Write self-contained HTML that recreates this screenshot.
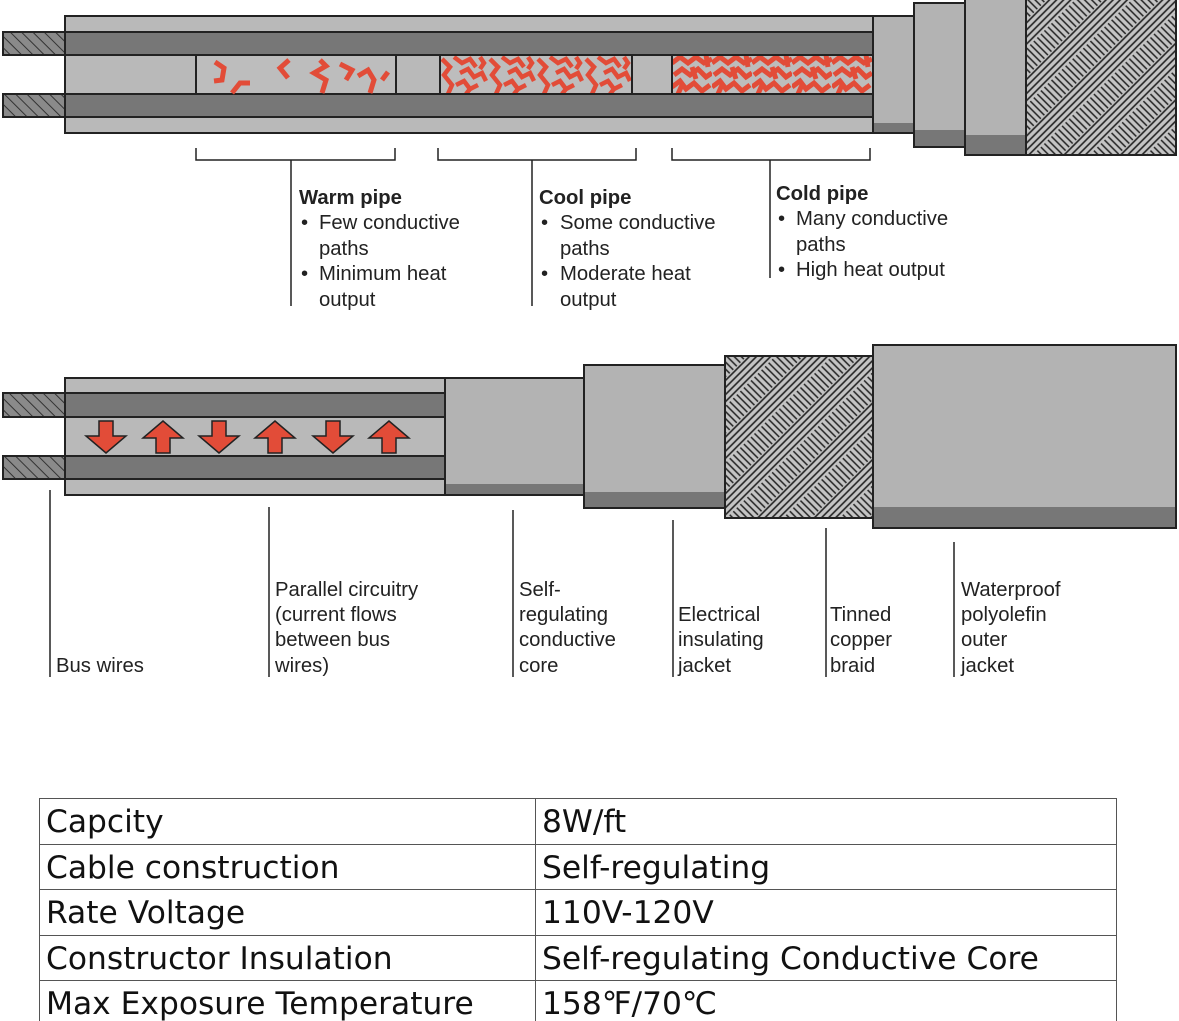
<!DOCTYPE html>
<html><head><meta charset="utf-8"><style>
html,body{margin:0;padding:0;background:#fff;width:1179px;height:1021px;overflow:hidden;position:relative}
svg{position:absolute;left:0;top:0}
.t{font-family:"Liberation Sans",Arial,sans-serif;font-size:20.3px;fill:#222}
.tb{font-weight:bold}
.tbl{position:absolute;left:39px;top:798px;width:1078px;border-top:1px solid #555;font-family:"DejaVu Sans","Liberation Sans",sans-serif;font-size:31.3px;color:#111}
.r{height:44.5px;border-bottom:1px solid #555;border-left:1px solid #555;border-right:1px solid #555;display:flex;line-height:46px}
.c1{width:489px;padding-left:6px;border-right:1px solid #555;white-space:nowrap}
.c2{padding-left:6px;white-space:nowrap}
</style></head><body>
<svg width="1179" height="1021" viewBox="0 0 1179 1021">
<defs>
<pattern id="hatch" width="8" height="8" patternUnits="userSpaceOnUse" patternTransform="rotate(-45)">
<rect width="8" height="8" fill="#8a8a8a"/><line x1="0" y1="0" x2="0" y2="8" stroke="#333" stroke-width="2"/></pattern>
<pattern id="braid" width="40" height="40" patternUnits="userSpaceOnUse" patternTransform="rotate(45)">
<rect width="40" height="40" fill="#c4c4c4"/>
<g stroke="#222" stroke-width="1.6">
<line x1="0" y1="3" x2="20" y2="3"/><line x1="0" y1="8" x2="20" y2="8"/><line x1="0" y1="13" x2="20" y2="13"/><line x1="0" y1="18" x2="20" y2="18"/>
<line x1="22" y1="20" x2="22" y2="40"/><line x1="27" y1="20" x2="27" y2="40"/><line x1="32" y1="20" x2="32" y2="40"/><line x1="37" y1="20" x2="37" y2="40"/>
<line x1="22" y1="0" x2="22" y2="20"/><line x1="27" y1="0" x2="27" y2="20"/><line x1="32" y1="0" x2="32" y2="20"/><line x1="37" y1="0" x2="37" y2="20"/>
<line x1="0" y1="23" x2="20" y2="23"/><line x1="0" y1="28" x2="20" y2="28"/><line x1="0" y1="33" x2="20" y2="33"/><line x1="0" y1="38" x2="20" y2="38"/>
</g></pattern>
<pattern id="cool" width="48" height="39" patternUnits="userSpaceOnUse" x="440" y="55">
<rect width="48" height="39" fill="#bdbdbd"/>
<g fill="none" stroke="#e24c38" stroke-width="4.5">
<path d="M2 4 L10 12 L4 20 L12 30 L8 39"/><path d="M14 2 L22 8 L30 4 L36 12"/><path d="M20 18 L28 14 L34 22 L42 18 L46 26"/><path d="M16 30 L24 26 L30 34 L38 30"/><path d="M40 2 L44 8 L40 14"/><path d="M26 39 L30 34"/>
</g></pattern>
<pattern id="cold" width="40" height="39" patternUnits="userSpaceOnUse" x="672" y="55">
<rect width="40" height="39" fill="#bdbdbd"/>
<g fill="none" stroke="#e24c38" stroke-width="5">
<path d="M0 8 L8 2 L16 8 L24 2 L32 8 L40 4"/><path d="M2 20 L10 14 L18 20 L26 14 L34 22 L40 18"/><path d="M0 32 L8 26 L14 34 L22 28 L30 36 L38 30"/><path d="M6 39 L10 30"/><path d="M20 12 L24 24"/><path d="M34 0 L36 12"/>
</g></pattern>
</defs>
<g stroke="#222" stroke-width="2">
<rect x="1026" y="-2" width="150" height="157" fill="url(#braid)"/>
<rect x="965" y="-2" width="61" height="157" fill="#b3b3b3"/>
<rect x="966" y="135" width="59" height="19" fill="#777" stroke="none"/>
<rect x="914" y="3" width="51" height="144" fill="#b3b3b3"/>
<rect x="915" y="130" width="49" height="16" fill="#777" stroke="none"/>
<rect x="873" y="16" width="41" height="117" fill="#b3b3b3"/>
<rect x="874" y="123" width="39" height="9" fill="#777" stroke="none"/>
<rect x="65" y="16" width="808" height="117" fill="#b9b9b9"/>
<rect x="65" y="32" width="808" height="23" fill="#777"/>
<rect x="65" y="94" width="808" height="23" fill="#777"/>
<rect x="3" y="32" width="62" height="23" fill="url(#hatch)"/>
<rect x="3" y="94" width="62" height="23" fill="url(#hatch)"/>
<rect x="196" y="55" width="200" height="39" fill="#bdbdbd"/>
<rect x="440" y="55" width="192" height="39" fill="url(#cool)"/>
<rect x="672" y="55" width="201" height="39" fill="url(#cold)"/>
</g>
<g fill="none" stroke="#e24c38" stroke-width="5">
<path d="M215 62 L224 68 L222 80 L214 81"/><path d="M232 93 L240 83 L250 83"/><path d="M289 60 L280 68 L288 78"/>
<path d="M320 60 L326 66 L314 73 L326 80 L322 93"/><path d="M340 64 L352 70 L346 80"/><path d="M358 76 L368 70 L374 80 L370 93"/><path d="M382 80 L388 72"/>
</g>
<g stroke="#222" stroke-width="1.5" fill="none">
<path d="M196 148 V160 H395 V148"/><path d="M438 148 V160 H636 V148"/><path d="M672 148 V160 H870 V148"/>
<line x1="291" y1="160" x2="291" y2="306"/><line x1="532" y1="160" x2="532" y2="306"/><line x1="770" y1="160" x2="770" y2="278"/>
</g>
<g class="t">
<text x="299" y="204" class="tb">Warm pipe</text>
<text x="301" y="229">•</text><text x="319" y="229">Few conductive</text><text x="319" y="255">paths</text>
<text x="301" y="280">•</text><text x="319" y="280">Minimum heat</text><text x="319" y="306">output</text>
<text x="539" y="204" class="tb">Cool pipe</text>
<text x="541" y="229">•</text><text x="560" y="229">Some conductive</text><text x="560" y="255">paths</text>
<text x="541" y="280">•</text><text x="560" y="280">Moderate heat</text><text x="560" y="306">output</text>
<text x="776" y="200" class="tb">Cold pipe</text>
<text x="778" y="225">•</text><text x="796" y="225">Many conductive</text><text x="796" y="251">paths</text>
<text x="778" y="276">•</text><text x="796" y="276">High heat output</text>
</g>
<g stroke="#222" stroke-width="2">
<rect x="873" y="345" width="303" height="183" fill="#b3b3b3"/>
<rect x="874" y="507" width="301" height="20" fill="#777" stroke="none"/>
<rect x="725" y="356" width="148" height="162" fill="url(#braid)"/>
<rect x="584" y="365" width="141" height="143" fill="#b3b3b3"/>
<rect x="585" y="492" width="139" height="15" fill="#777" stroke="none"/>
<rect x="445" y="378" width="139" height="117" fill="#b3b3b3"/>
<rect x="446" y="484" width="137" height="10" fill="#777" stroke="none"/>
<rect x="65" y="378" width="380" height="117" fill="#b9b9b9"/>
<rect x="65" y="393" width="380" height="24" fill="#777"/>
<rect x="65" y="456" width="380" height="23" fill="#777"/>
<rect x="3" y="393" width="62" height="24" fill="url(#hatch)"/>
<rect x="3" y="456" width="62" height="23" fill="url(#hatch)"/>
</g>
<g fill="#e24c38" stroke="#222" stroke-width="1.5">
<path d="M99 421 H113 V436 H126 L106 453 L86 436 H99 Z"/>
<path d="M156 453 H170 V438 H183 L163 421 L143 438 H156 Z"/>
<path d="M212 421 H226 V436 H239 L219 453 L199 436 H212 Z"/>
<path d="M268 453 H282 V438 H295 L275 421 L255 438 H268 Z"/>
<path d="M326 421 H340 V436 H353 L333 453 L313 436 H326 Z"/>
<path d="M382 453 H396 V438 H409 L389 421 L369 438 H382 Z"/>
</g>
<g stroke="#222" stroke-width="1.5">
<line x1="50" y1="490" x2="50" y2="677"/><line x1="269" y1="507" x2="269" y2="677"/>
<line x1="513" y1="510" x2="513" y2="677"/><line x1="673" y1="520" x2="673" y2="677"/>
<line x1="826" y1="528" x2="826" y2="677"/><line x1="954" y1="542" x2="954" y2="677"/>
</g>
<g class="t">
<text x="56" y="672">Bus wires</text>
<text x="275" y="596">Parallel circuitry</text><text x="275" y="621">(current flows</text><text x="275" y="646">between bus</text><text x="275" y="672">wires)</text>
<text x="519" y="596">Self-</text><text x="519" y="621">regulating</text><text x="519" y="646">conductive</text><text x="519" y="672">core</text>
<text x="678" y="621">Electrical</text><text x="678" y="646">insulating</text><text x="678" y="672">jacket</text>
<text x="830" y="621">Tinned</text><text x="830" y="646">copper</text><text x="830" y="672">braid</text>
<text x="961" y="596">Waterproof</text><text x="961" y="621">polyolefin</text><text x="961" y="646">outer</text><text x="961" y="672">jacket</text>
</g>
</svg>
<div class="tbl">
<div class="r"><div class="c1">Capcity</div><div class="c2">8W/ft</div></div>
<div class="r"><div class="c1">Cable construction</div><div class="c2">Self-regulating</div></div>
<div class="r"><div class="c1">Rate Voltage</div><div class="c2">110V-120V</div></div>
<div class="r"><div class="c1">Constructor Insulation</div><div class="c2">Self-regulating Conductive Core</div></div>
<div class="r"><div class="c1">Max Exposure Temperature</div><div class="c2">158℉/70℃</div></div>
</div>
</body></html>
